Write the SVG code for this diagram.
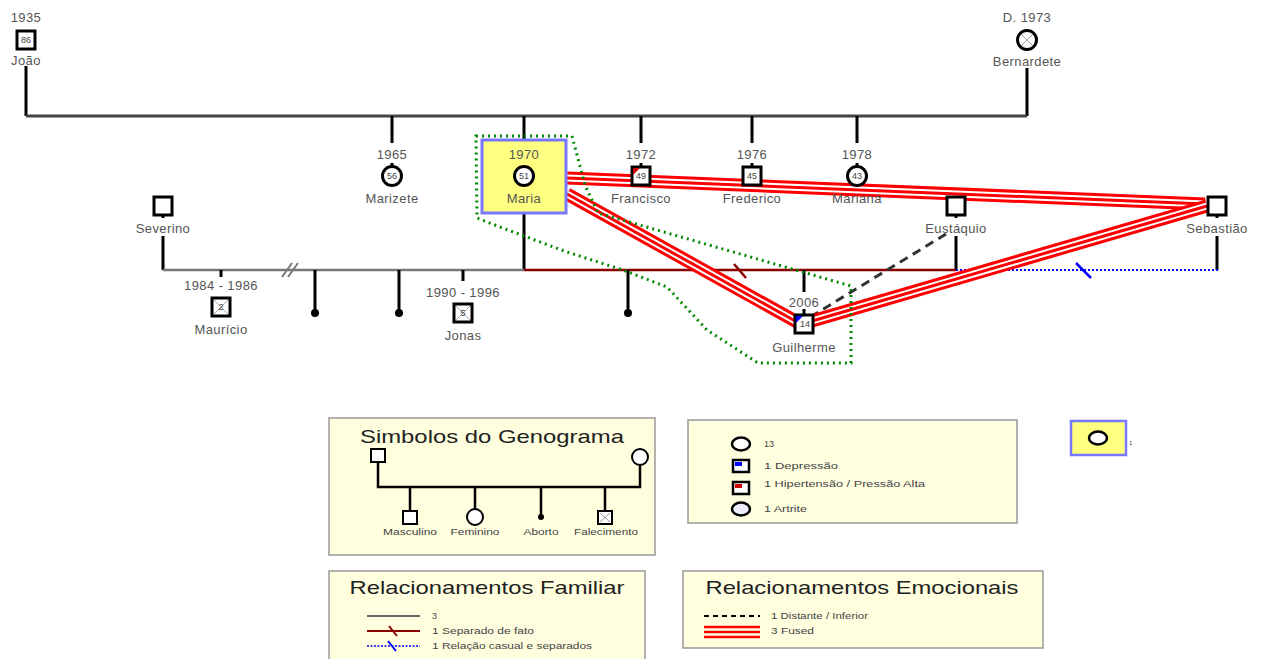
<svg xmlns="http://www.w3.org/2000/svg" width="1262" height="659" viewBox="0 0 1262 659">
<style>
text{font-family:"Liberation Sans",Arial,sans-serif;fill:#555;font-size:13px;letter-spacing:0.4px;text-anchor:middle}
.n{fill:#fff;stroke:#000;stroke-width:3}
.age{font-size:9px;fill:#444;letter-spacing:0}
.ln{stroke:#000;stroke-width:3;fill:none}
.leg{fill:#ffffe0;stroke:#999;stroke-width:1.5}
.lt{font-size:19px;fill:#222;letter-spacing:0}
.ls{font-size:9px;fill:#444;text-anchor:start;letter-spacing:0}
.lc{font-size:9px;fill:#444;letter-spacing:0}
.fr{stroke:#f00;stroke-width:13;fill:none}
.fw{stroke:#fff;stroke-width:7;fill:none}
.fc{stroke:#f00;stroke-width:3;fill:none}
</style>
<rect width="1262" height="659" fill="#fff"/>
<g id="connectors">
<path class="ln" d="M26 66V116M1027 68V116"/>
<path d="M26 116H1027" stroke="#444" stroke-width="3"/>
<path class="ln" d="M392 116V143M524 116V140M641 116V143M752 116V143M857 116V143"/>
<path class="ln" d="M392 163V167M641 163V167M752 163V167M857 163V167"/>
<path class="ln" d="M163 236V270M524 213V270M956 236V270M1217 236V270"/>
<path d="M163 270H524" stroke="#777" stroke-width="2.5"/>
<path d="M282 277L292 263M288 277L298 263" stroke="#777" stroke-width="2"/>
<path d="M524 270H956" stroke="#8b0000" stroke-width="2.5"/>
<path d="M734 264L746 278" stroke="#8b0000" stroke-width="2.5"/>
<path d="M956 270H1218" stroke="#00f" stroke-width="2" stroke-dasharray="2,2"/>
<path d="M1076 263L1091 278" stroke="#00f" stroke-width="2.5"/>
<path class="ln" d="M221 270V277M463 270V281M804 270V292M804 309V316"/>
<path class="ln" d="M315 270V312M399 270V312M628 270V312"/>
<circle cx="315" cy="313" r="4" fill="#000"/>
<circle cx="399" cy="313" r="4" fill="#000"/>
<circle cx="628" cy="313" r="4" fill="#000"/>
<path d="M946 234L812 316" stroke="#333" stroke-width="3" stroke-dasharray="9,6" fill="none"/>
<g id="fused">
<path class="fr" d="M567 178L1205 204"/><path class="fw" d="M567 178L1205 204"/><path class="fc" d="M567 178L1205 204"/>
<path class="fr" d="M567 194L797 322"/><path class="fw" d="M567 194L797 322"/><path class="fc" d="M567 194L797 322"/>
<path class="fr" d="M812 321L1207 206"/><path class="fw" d="M812 321L1207 206"/><path class="fc" d="M812 321L1207 206"/>
</g>
<path d="M476 136H572L585 185L598 213L851 286V363H758L707 330L667 287L623 270L567 252L500 227L477 218Z" fill="none" stroke="#080" stroke-width="3" stroke-dasharray="2,4"/>
</g>
<g id="joao"><text x="26" y="22">1935</text><rect class="n" x="17" y="31" width="18" height="18"/><text class="age" x="26" y="43">86</text><text x="26" y="65">João</text></g>
<g id="bernardete"><text x="1027" y="22">D. 1973</text><circle class="n" cx="1027" cy="40" r="9.5"/><path d="M1021 34L1033 46M1033 34L1021 46" stroke="#999" stroke-width="1"/><text x="1027" y="66">Bernardete</text></g>
<g id="marizete"><text x="392" y="159">1965</text><circle class="n" cx="392" cy="176" r="9.5"/><text class="age" x="392" y="179">56</text><text x="392" y="203">Marizete</text></g>
<g id="maria"><rect x="482" y="140" width="84" height="73" fill="#ffff80" stroke="#77f" stroke-width="3"/><text x="524" y="159" fill="#444">1970</text><circle class="n" cx="524" cy="176" r="9.5"/><text class="age" x="524" y="179">51</text><text x="524" y="203" fill="#444">Maria</text></g>
<g id="francisco"><text x="641" y="159">1972</text><rect class="n" x="632" y="167" width="18" height="18"/><path d="M633 168h7l-7 7z" fill="#c00"/><text class="age" x="641" y="179">49</text><text x="641" y="203">Francisco</text></g>
<g id="frederico"><text x="752" y="159">1976</text><rect class="n" x="743" y="167" width="18" height="18"/><text class="age" x="752" y="179">45</text><text x="752" y="203">Frederico</text></g>
<g id="mariana"><text x="857" y="159">1978</text><circle class="n" cx="857" cy="176" r="9.5"/><text class="age" x="857" y="179">43</text><text x="857" y="203">Mariana</text></g>
<g id="severino"><rect class="n" x="154" y="197" width="18" height="18"/><path class="ln" d="M163 215v3"/><text x="163" y="233">Severino</text></g>
<g id="eustaquio"><rect class="n" x="947" y="197" width="18" height="18"/><path class="ln" d="M956 215v3"/><text x="956" y="233">Eustáquio</text></g>
<g id="sebastiao"><rect class="n" x="1208" y="197" width="18" height="18"/><path class="ln" d="M1217 215v3"/><text x="1217" y="233">Sebastião</text></g>
<g id="mauricio"><text x="221" y="290">1984 - 1986</text><rect class="n" x="212" y="298" width="18" height="18"/><path d="M214 300L228 314M228 300L214 314" stroke="#aaa" stroke-width="1"/><text class="age" x="221" y="310">2</text><text x="221" y="334">Maurício</text></g>
<g id="jonas"><text x="463" y="297">1990 - 1996</text><rect class="n" x="454" y="304" width="18" height="18"/><path d="M456 306L470 320M470 306L456 320" stroke="#aaa" stroke-width="1"/><text class="age" x="463" y="316">5</text><text x="463" y="340">Jonas</text></g>
<g id="guilherme"><text x="804" y="307">2006</text><rect class="n" x="795" y="315" width="18" height="18"/><path d="M796 316h7l-7 7z" fill="#00f"/><text class="age" x="805" y="327">14</text><text x="804" y="352">Guilherme</text></g>
<g id="legend-simbolos">
<rect class="leg" x="329" y="418" width="326" height="137"/>
<text class="lt" x="492" y="443" textLength="264" lengthAdjust="spacingAndGlyphs">Simbolos do Genograma</text>
<path d="M378 462V487H640V465M410 487V510M475 487V509M541 487V515M605 487V510" stroke="#000" stroke-width="2.5" fill="none"/>
<rect x="371" y="449" width="14" height="13" fill="#fff" stroke="#000" stroke-width="2"/>
<circle cx="640" cy="457" r="8" fill="#fff" stroke="#000" stroke-width="2"/>
<rect x="403" y="511" width="14" height="13" fill="#fff" stroke="#000" stroke-width="2"/>
<circle cx="475" cy="517" r="8" fill="#fff" stroke="#000" stroke-width="2"/>
<circle cx="541" cy="517" r="3" fill="#000"/>
<rect x="598" y="511" width="14" height="13" fill="#fff" stroke="#000" stroke-width="2"/>
<path d="M600 513L610 522M610 513L600 522" stroke="#999" stroke-width="1"/>
<text class="lc" x="410" y="535" textLength="54" lengthAdjust="spacingAndGlyphs">Masculino</text>
<text class="lc" x="475" y="535" textLength="49" lengthAdjust="spacingAndGlyphs">Feminino</text>
<text class="lc" x="541" y="535" textLength="35" lengthAdjust="spacingAndGlyphs">Aborto</text>
<text class="lc" x="606" y="535" textLength="64" lengthAdjust="spacingAndGlyphs">Falecimento</text>
</g>
<g id="legend-doencas">
<rect class="leg" x="688" y="420" width="329" height="103"/>
<ellipse cx="741" cy="444" rx="9" ry="6.5" fill="#fff" stroke="#000" stroke-width="2.5"/>
<text class="ls" x="764" y="447">13</text>
<rect x="733" y="460" width="16" height="12" fill="#fff" stroke="#000" stroke-width="2.5"/><rect x="735" y="462" width="7" height="4" fill="#00f"/>
<text class="ls" x="764" y="469" textLength="74" lengthAdjust="spacingAndGlyphs">1 Depressão</text>
<rect x="733" y="482" width="16" height="12" fill="#fff" stroke="#000" stroke-width="2.5"/><rect x="735" y="484" width="7" height="4" fill="#c00"/>
<text class="ls" x="764" y="487" textLength="161" lengthAdjust="spacingAndGlyphs">1 Hipertensão / Pressão Alta</text>
<ellipse cx="741" cy="509" rx="9" ry="6.5" fill="#eef" stroke="#000" stroke-width="2.5"/>
<text class="ls" x="764" y="512" textLength="43" lengthAdjust="spacingAndGlyphs">1 Artrite</text>
</g>
<g id="legend-destaque">
<rect x="1071" y="421" width="55" height="34" fill="#ffff80" stroke="#77f" stroke-width="2.5"/>
<ellipse cx="1098" cy="438" rx="9" ry="6.5" fill="#fff" stroke="#000" stroke-width="2.5"/>
<text class="ls" x="1129" y="445" style="font-size:6px">1</text>
</g>
<g id="legend-familiar">
<rect class="leg" x="329" y="571" width="316" height="95"/>
<text class="lt" x="487" y="594" textLength="275" lengthAdjust="spacingAndGlyphs">Relacionamentos Familiar</text>
<path d="M367 616H420" stroke="#666" stroke-width="2"/>
<text class="ls" x="432" y="619">3</text>
<path d="M367 631H420" stroke="#8b0000" stroke-width="2"/><path d="M389 626L397 636" stroke="#8b0000" stroke-width="2"/>
<text class="ls" x="432" y="634" textLength="102" lengthAdjust="spacingAndGlyphs">1 Separado de fato</text>
<path d="M367 646H420" stroke="#00f" stroke-width="1.5" stroke-dasharray="2,1.5"/><path d="M388 641L396 651" stroke="#00f" stroke-width="2"/>
<text class="ls" x="432" y="649" textLength="160" lengthAdjust="spacingAndGlyphs">1 Relação casual e separados</text>
</g>
<g id="legend-emocionais">
<rect class="leg" x="683" y="571" width="360" height="77"/>
<text class="lt" x="862" y="594" textLength="313" lengthAdjust="spacingAndGlyphs">Relacionamentos Emocionais</text>
<path d="M704 616H760" stroke="#000" stroke-width="2" stroke-dasharray="5,4"/>
<text class="ls" x="771" y="619" textLength="97" lengthAdjust="spacingAndGlyphs">1 Distante / Inferior</text>
<path d="M704 627H760M704 632H760M704 637H760" stroke="#f00" stroke-width="2.5"/>
<text class="ls" x="771" y="634" textLength="43" lengthAdjust="spacingAndGlyphs">3 Fused</text>
</g>
</svg>
